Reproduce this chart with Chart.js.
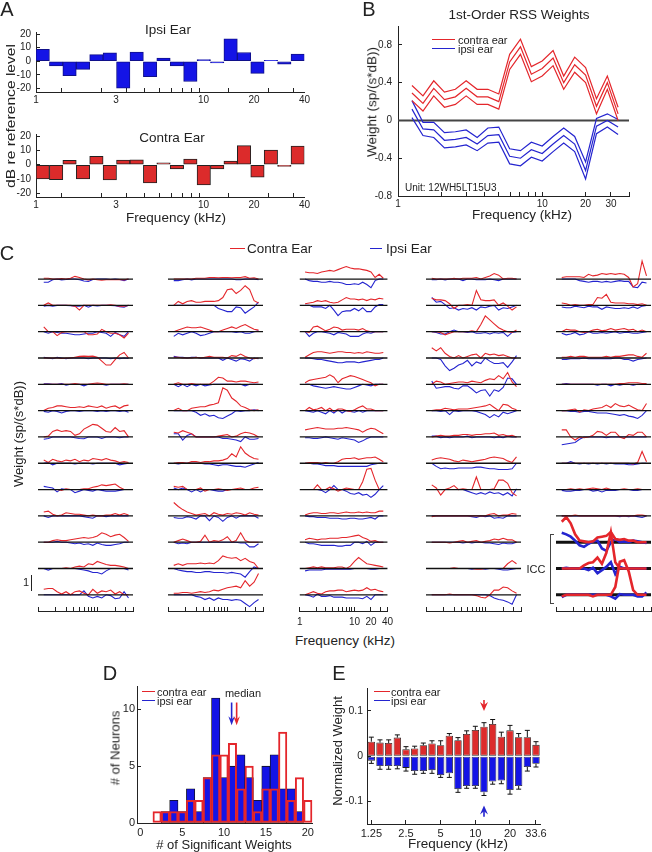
<!DOCTYPE html>
<html>
<head>
<meta charset="utf-8">
<script src="https://cdn.jsdelivr.net/npm/chart.js@4.4.1/dist/chart.umd.min.js"></script>
<style>
html, body { margin: 0; padding: 0; background: #fff; overflow: hidden; }
#fig { position: relative; width: 652px; height: 852px; overflow: hidden;
       font-family: 'Liberation Sans', Arial, Helvetica, sans-serif; color: #222; }
#fig canvas { position: absolute; }
.t { position: absolute; white-space: nowrap; line-height: 1; }
.ln { position: absolute; height: 0; }
</style>
</head>
<body>
<div id="fig"></div>
<script>
// ---------- data ----------
// quarter-octave frequency bins (kHz) used by B, C and E
const freqs = [1.25, 1.49, 1.77, 2.1, 2.5, 2.97, 3.54, 4.2, 5, 5.95, 7.07, 8.41, 10, 11.9, 14.1, 16.8, 20, 23.8, 28.3, 33.6];
const logTickVals = [1, 2, 3, 4, 5, 6, 7, 8, 9, 10, 20, 30, 40];

// A: dB re reference level, 20 log-spaced bins 1-40 kHz
const aBins = ['1.1', '1.3', '1.6', '1.9', '2.3', '2.8', '3.3', '4.0', '4.8', '5.8', '6.9', '8.3', '10', '12', '14.5', '17.4', '21', '25', '30', '36'];
const aIpsi = [8.7, -3.4, -10.6, -6, 4.9, 6.2, -19.8, 6.8, -11.3, 2.3, -3.4, -14.9, 1.3, -1.3, 16.4, 6.4, -8.9, 0.6, -2.1, 5.3];
const aContra = [-10, -10.5, 3, -10, 5.8, -10.7, 3.3, 3.5, -12.8, 1.4, -3, 4, -14.2, -2.9, 2.5, 13.4, -8.7, 10.3, -1.2, 13];
const aXTicks = [1, 3, 10, 20, 40];
const aYTicks = [-20, -10, 0, 10, 20];

// B: first-order weights, mean and SE
const bContra = [0.29, 0.18, 0.34, 0.22, 0.25, 0.34, 0.25, 0.25, 0.20, 0.62, 0.78, 0.49, 0.55, 0.66, 0.40, 0.59, 0.48, 0.15, 0.40, 0.07];
const bContraSE = [0.08, 0.08, 0.08, 0.08, 0.08, 0.08, 0.08, 0.08, 0.08, 0.08, 0.08, 0.08, 0.08, 0.08, 0.07, 0.08, 0.08, 0.08, 0.07, 0.07];
const bIpsi = [0.12, -0.09, -0.10, -0.21, -0.20, -0.18, -0.25, -0.16, -0.15, -0.38, -0.40, -0.31, -0.35, -0.25, -0.16, -0.25, -0.53, -0.06, 0, -0.07];
const bIpsiSE = [0.09, 0.07, 0.08, 0.08, 0.08, 0.08, 0.07, 0.08, 0.08, 0.08, 0.08, 0.08, 0.08, 0.08, 0.08, 0.08, 0.09, 0.08, 0.07, 0.08];
const bXTicks = [1, 10, 20, 30];
const bYTicks = [-0.8, -0.4, 0, 0.4, 0.8];

// C: weights of 65 units, per column, 13 rows each (top to bottom)
const cRed1 = [
  [0.05, 0.05, 0, 0, 0.03, 0, 0.05, 0.17, 0.1, 0, -0.05, 0, -0.05, -0.08, -0.05, -0.05, -0.05, -0.03, -0.05, 0],
  [0, 0.15, 0, 0, 0, 0, 0, -0.05, -0.3, 0, 0, 0, 0, 0, 0, 0.03, 0, -0.05, -0.05, 0],
  [0.3, 0, 0, -0.25, -0.05, 0, 0, 0, 0, 0, -0.2, -0.2, -0.15, 0.15, 0, -0.1, -0.1, -0.2, -0.4, -0.1],
  [0, 0, 0, 0, -0.03, 0, 0, 0.05, 0.1, 0.12, 0.1, 0.12, 0.05, -0.2, -0.45, -0.45, -0.1, 0.2, 0.35, 0],
  [0, 0, 0, 0, 0, 0, 0, 0.05, 0, 0, 0, 0.05, 0.08, 0.05, 0, 0, 0, 0, 0.03, 0],
  [0, 0.15, 0.2, 0.3, 0.3, 0.25, 0.2, 0.2, 0.25, 0.2, 0.3, 0.25, 0.2, 0.3, 0.15, 0.25, 0.3, 0.15, 0.3, 0.35],
  [0, 0.05, 0.35, 0.45, 0.35, 0.4, 0.35, 0.1, 0.2, 0.5, 0.65, 0.8, 0.75, 0.55, 0.35, 0.3, 0.6, 0.35, 0.4, 0],
  [0.2, 0.05, 0.25, 0.15, 0.1, 0.2, 0.15, 0.25, 0.1, 0.2, 0.15, 0.3, 0.25, 0.2, 0.3, 0.2, 0.15, 0.05, 0.1, 0.05],
  [0, 0, 0, 0, -0.05, 0.05, 0, 0, 0, 0.05, 0.05, 0.15, 0.2, 0.3, 0.25, 0.3, 0.35, 0.15, 0, 0],
  [0.25, 0.3, 0.1, 0, 0.05, 0.2, 0.15, 0.1, 0.1, 0.05, 0, 0.05, 0, 0, 0.05, 0.05, 0.15, 0.05, 0.15, 0.05],
  [0, 0, 0.1, 0.15, 0.1, 0.1, 0.15, 0.2, 0.25, 0.3, 0.25, 0.3, 0.4, 0.6, 0.5, 0.35, 0.45, 0.5, 0.3, 0.05],
  [0, 0, 0, 0, 0, 0.05, 0, 0.1, 0.15, 0.1, 0.3, 0.25, 0.45, 0.35, 0.25, 0.2, 0.2, 0.15, 0.1, 0],
  [0.35, 0.4, 0.4, 0.2, 0.05, 0.2, 0, 0.2, 0.25, 0.1, 0, 0.35, 0.1, 0.25, 0.2, 0.3, 0.05, 0.2, 0, 0]
];
const cBlue1 = [
  [-0.2, -0.2, -0.05, 0, -0.05, -0.03, 0, 0, -0.05, -0.12, -0.15, -0.03, 0, 0, 0, -0.03, 0, -0.03, -0.1, 0],
  [-0.05, 0, -0.05, 0, 0, 0, -0.03, -0.05, -0.05, 0, -0.12, 0, -0.03, 0, 0, 0, -0.03, -0.08, -0.12, 0],
  [0, -0.1, 0, -0.05, -0.1, -0.1, -0.15, -0.2, -0.2, -0.15, -0.1, -0.1, 0, -0.05, -0.1, -0.3, -0.05, -0.2, -0.3, 0],
  [0.05, 0, -0.05, 0.05, 0, -0.05, 0, 0, 0, 0, -0.05, 0, 0, 0, 0, -0.05, 0, -0.05, 0, -0.03],
  [0.03, 0.03, 0, 0, 0.05, -0.05, 0, 0, 0, -0.1, 0, 0, 0, 0, -0.05, 0, 0, 0, 0, 0],
  [-0.05, -0.1, 0, -0.05, -0.15, -0.05, 0, 0, -0.05, 0, 0, 0, -0.05, 0, -0.05, 0, 0, -0.05, 0, -0.1],
  [-0.15, -0.1, 0, 0, 0, 0, 0, -0.05, -0.1, -0.12, 0, 0, 0, -0.1, 0, 0, 0, -0.05, 0, 0],
  [0, 0.05, -0.1, 0, 0, 0, 0, -0.05, 0, 0, 0, -0.05, 0, 0, 0, 0, 0, -0.1, -0.05, 0],
  [0.2, 0.15, 0.1, -0.15, 0.05, 0, 0, -0.2, -0.1, 0, -0.05, -0.1, 0, -0.05, -0.1, -0.1, -0.1, -0.05, 0, 0],
  [0, -0.1, 0, 0, 0, 0, 0, 0, 0, -0.05, -0.1, -0.15, 0, 0, -0.05, 0, 0, 0, 0, 0],
  [0, 0, 0, 0.05, 0, 0, -0.05, -0.1, -0.05, -0.15, -0.1, -0.2, -0.05, -0.15, -0.2, -0.2, -0.15, -0.1, 0, 0],
  [0, -0.1, 0, 0, 0, 0, 0, 0, -0.05, -0.1, -0.15, -0.25, -0.25, -0.35, -0.15, 0, 0, 0, 0, -0.1],
  [0, 0, 0, 0, 0, 0, 0, 0, 0, 0.25, -0.1, -0.2, -0.1, -0.2, 0, -0.05, -0.25, -0.2, 0.2, -0.2]
];
const cRed2 = [
  [0, 0, 0, 0, 0, 0.05, 0.05, 0.05, 0.1, 0.1, 0.08, 0.1, 0.1, 0.08, 0.1, 0.1, 0.15, 0.05, 0.08, 0],
  [0, 0.25, 0.1, 0.25, 0.3, 0.2, 0.2, 0.25, 0.25, 0.25, 0.3, 0.5, 1.0, 1.05, 0.75, 0.95, 1.25, 1.0, 0.3, 0.15],
  [0, 0.1, 0.2, 0.3, 0.25, 0.25, 0.3, 0.2, 0.1, 0, 0, 0.1, 0.2, 0.3, 0.2, 0.35, 0.45, 0.3, 0.15, 0.1],
  [0.05, 0.05, 0, 0, 0, 0.05, 0, 0.05, 0.1, 0.05, 0.05, 0.05, 0, 0.15, 0.1, 0.25, 0.1, 0, -0.05, 0],
  [0, 0.1, 0, 0, 0.05, 0, 0, 0, 0, 0.2, 0.45, 0.4, 0.2, 0.2, 0.15, 0.2, 0.2, 0.15, 0.1, 0.15],
  [0, 0.15, 0, 0, 0.15, 0.2, 0.25, 0.25, 0.35, 0.4, 0.5, 1.45, 1.3, 0.8, 0.6, 0.3, 0.2, 0.05, 0, 0.05],
  [0.3, 0.25, 0.4, 0.3, 0.2, 0, 0, 0, 0, 0, 0.05, 0.1, 0.15, 0, 0.05, 0.2, 0.3, 0.25, 0.15, 0],
  [0, 0.05, 0.05, 0, 0.1, 0.1, 0.05, 0.1, 0.1, 0.15, 0.15, 0.2, 0.3, 0.6, 0.4, 1.05, 0.65, 0.45, 0.3, 0.25],
  [0.2, 0.15, 0.2, 0, 0, 0, 0.1, -0.1, 0, 0, 0.05, 0, -0.05, 0, 0.05, 0.1, 0, 0, 0.1, 0.15],
  [0.85, 0.6, 0.4, 0.25, 0.15, 0.05, 0.1, 0.15, 0, 0.2, 0.1, 0.05, 0.15, 0.1, 0.2, 0.15, 0.05, 0.2, 0.1, 0.05],
  [0, 0.1, 0.2, 0.1, 0, 0, 0.05, 0.45, 0, 0.1, 0.05, 0.15, 0.35, 0, 0.1, 0.6, 0.1, 0, 0, 0],
  [0.2, 0.3, 0.2, 0.3, 0.3, 0.3, 0.35, 0.3, 0.35, 0.3, 0.5, 0.8, 0.7, 0.65, 0.7, 0.5, 0.65, 0.45, 0.35, 0],
  [0.1, 0.1, 0.15, 0.15, 0.1, 0.15, 0.2, 0.15, 0.2, 0.3, 0.25, 0.35, 0.45, 0.5, 0.55, 0.45, 0.9, 0.55, 0.8, 1.35]
];
const cBlue2 = [
  [-0.1, -0.1, -0.05, 0, -0.05, 0, 0, 0, 0, 0, 0, 0, 0, 0, -0.05, -0.05, 0, 0, 0, -0.05],
  [0, 0, 0, 0, 0, 0, 0, 0, 0, 0, -0.2, -0.3, -0.4, -0.4, -0.1, -0.15, -0.5, -0.3, -0.1, 0.2],
  [-0.3, -0.1, -0.2, -0.1, 0, -0.1, -0.25, -0.2, -0.1, 0, 0, 0, 0, 0, -0.05, 0, -0.1, -0.1, 0, 0.05],
  [0.1, 0.05, 0.05, 0, 0.05, 0.05, 0, 0, 0, 0, 0, -0.15, 0, -0.1, -0.2, -0.05, -0.1, -0.2, 0, -0.05],
  [0, -0.15, 0, -0.15, 0, -0.1, 0, -0.1, -0.05, 0, 0, 0, 0, 0, 0, 0, -0.1, 0, 0, 0],
  [0, 0, 0, 0, 0, -0.1, -0.3, -0.2, -0.35, -0.3, -0.45, -0.5, -0.35, -0.2, 0, -0.05, 0, 0, 0.05, 0],
  [0.2, 0.2, -0.2, 0.1, 0.2, 0, 0, 0, 0, 0, 0, -0.1, -0.1, -0.15, -0.2, -0.3, 0, -0.15, -0.15, -0.1],
  [0, -0.05, 0, 0, 0, 0, 0, -0.05, -0.05, -0.1, -0.15, -0.1, -0.1, -0.15, -0.2, -0.2, -0.25, -0.15, -0.05, 0.05],
  [0.1, 0, 0.1, 0, -0.15, 0, -0.15, 0, 0, -0.05, -0.1, -0.1, 0, 0, 0, 0, 0, 0, 0, 0],
  [-0.1, -0.15, -0.15, -0.05, -0.1, -0.2, 0, 0, -0.3, 0, -0.1, -0.35, -0.1, 0, -0.15, 0, 0, 0, 0, -0.15],
  [0, -0.1, -0.05, -0.1, 0, 0, 0, 0, 0, 0, 0, 0, 0, 0, 0, -0.05, -0.05, -0.3, -0.3, -0.1],
  [0, -0.1, -0.15, -0.2, -0.2, -0.25, -0.25, -0.2, -0.2, -0.25, -0.25, -0.25, -0.3, -0.25, -0.3, -0.35, -0.55, -0.2, 0.1, 0],
  [0, 0, 0, 0, 0, -0.1, -0.15, -0.3, -0.2, -0.35, -0.2, -0.3, -0.3, -0.35, -0.3, -0.35, -0.55, -0.75, -0.5, -0.3]
];
const cRed3 = [
  [0.45, 0.4, 0.4, 0.35, 0.45, 0.5, 0.55, 0.5, 0.6, 0.7, 0.8, 0.7, 0.65, 0.65, 0.6, 0.55, 0.45, 0.1, 0.3, 0.05],
  [0.1, 0.15, 0.2, 0.3, 0.25, 0.3, 0.2, 0.15, 0.2, 0.35, 0.5, 0.4, 0.4, 0.35, 0.4, 0.3, 0.4, 0.35, 0.45, 0.4],
  [0, -0.05, 0.3, 0.35, 0.2, 0.05, 0.15, 0.3, 0.25, 0.1, 0.15, 0.15, 0.15, 0.1, 0.2, 0.05, 0, 0, 0, 0],
  [0.05, 0.2, 0.35, 0.4, 0.4, 0.35, 0.3, 0.35, 0.4, 0.4, 0.35, 0.35, 0.3, 0.35, 0.3, 0.4, 0.35, 0.3, 0.3, 0.35],
  [0.1, 0.25, 0.3, 0.35, 0.4, 0.45, 0.6, 0.45, 0.1, 0.35, 0.45, 0.55, 0.5, 0.4, 0.3, 0.2, 0.1, -0.1, 0, 0],
  [0, 0.2, 0.05, 0.1, 0.2, 0, 0.15, -0.05, 0.1, 0.1, 0, -0.05, 0.05, 0.2, 0.3, 0.1, 0.1, 0, 0, 0],
  [0.45, 0.5, 0.55, 0.6, 0.55, 0.5, 0.5, 0.5, 0.55, 0.55, 0.6, 0.55, 0.5, 0.45, 0.3, 0.45, 0.55, 0.5, 0.35, 0.2],
  [0, 0.05, 0.05, 0.05, 0, 0.05, 0, 0, 0.1, 0.25, 0.3, 0.3, 0.35, 0.25, 0.3, 0.35, 0.35, 0.4, 0.25, 0.1],
  [0, 0, 0, 0.3, 0, 0, 0.15, 0.05, -0.1, 0, 0.1, 0.05, 0, 0, 0.5, 1.3, 1.35, 0.6, 0, 0],
  [0.05, 0.15, 0.2, 0.2, 0.15, 0.15, 0.2, 0.2, 0.15, 0.2, 0.25, 0.2, 0.2, 0.25, 0.2, 0.25, 0.2, 0.2, 0.3, 0.3],
  [0.15, 0.25, 0.2, 0.15, 0.2, 0.2, 0.25, 0.25, 0.25, 0.3, 0.3, 0.35, 0.4, 0.45, 0.3, 0.2, 0.05, 0.1, 0, 0],
  [0, 0.05, 0.1, 0.05, 0.1, 0.05, 0.05, 0.05, 0.1, 0.1, 0, 0.15, 0.45, 0.7, 0.5, 0.3, 0.25, 0.2, 0.15, 0.1],
  [0, 0.1, 0.2, 0.1, 0.05, 0.2, 0.25, 0.25, 0.3, 0.3, 0.2, 0.25, 0.3, 0.25, 0.3, 0.45, 0.3, 0.35, 0.25, 0.2]
];
const cBlue3 = [
  [0, -0.1, -0.15, -0.15, -0.2, -0.2, -0.15, -0.2, -0.2, -0.25, -0.35, -0.35, -0.3, -0.35, -0.2, -0.35, -0.55, -0.1, 0, 0],
  [0, 0, -0.1, -0.1, -0.1, -0.2, 0, -0.3, -0.65, -0.4, -0.35, -0.35, -0.2, -0.35, -0.15, -0.4, -0.4, -0.1, 0.05, 0.05],
  [0, -0.3, -0.1, 0, 0, -0.05, -0.1, -0.2, -0.05, -0.1, -0.15, -0.3, -0.3, -0.3, -0.15, -0.05, -0.1, 0, 0, 0],
  [0, 0, -0.05, -0.1, -0.1, -0.15, -0.2, -0.25, -0.3, -0.3, -0.25, -0.25, -0.25, -0.3, -0.25, -0.2, -0.15, -0.1, -0.1, 0],
  [0, 0, -0.1, -0.15, -0.2, -0.25, -0.2, -0.15, -0.2, -0.25, -0.3, -0.3, -0.2, -0.1, 0, -0.05, -0.1, 0, 0, 0],
  [0, -0.05, -0.1, 0, -0.1, -0.2, 0, -0.15, 0.05, -0.15, 0, -0.05, -0.1, 0, -0.1, 0, 0, 0, 0, 0],
  [-0.05, -0.05, -0.1, -0.1, -0.05, 0, -0.05, -0.1, -0.15, -0.05, -0.1, -0.15, -0.2, -0.35, -0.25, -0.1, 0, 0, 0, 0],
  [0, 0, -0.05, -0.05, -0.1, -0.15, -0.15, -0.15, -0.2, -0.2, -0.2, -0.2, -0.2, -0.2, -0.2, -0.2, -0.1, -0.05, 0, 0],
  [0, 0, 0, 0, -0.05, -0.2, 0, 0.25, 0, 0, -0.1, -0.25, -0.3, -0.2, -0.35, -0.3, -0.5, -0.3, 0, 0.25],
  [0, -0.05, -0.05, -0.1, -0.1, -0.1, -0.15, -0.15, -0.15, -0.2, -0.2, -0.15, -0.15, -0.2, -0.2, -0.15, -0.1, -0.2, 0, 0],
  [0, -0.1, -0.1, -0.15, -0.2, -0.2, -0.2, -0.2, -0.25, -0.25, -0.2, -0.2, 0, 0, -0.1, 0.05, -0.2, 0, 0, 0],
  [-0.15, -0.1, -0.1, -0.1, -0.1, -0.05, -0.05, -0.05, -0.05, -0.05, -0.05, -0.05, 0, 0, 0, 0, -0.05, -0.05, 0, 0],
  [0, -0.05, -0.15, 0.05, -0.1, -0.1, -0.05, -0.15, -0.15, -0.15, -0.2, -0.2, -0.2, -0.2, -0.25, -0.1, -0.3, 0, 0, 0]
];
const cRed4 = [
  [0.05, 0, 0, 0, 0, 0.05, 0, 0.05, 0.05, 0.05, 0.1, 0, 0.1, 0.2, 0.35, 0.25, 0, 0.05, 0.05, 0],
  [0.45, 0.35, 0.35, 0.3, 0.1, -0.2, 0, 0, 0.05, 0, 0.95, 0.35, 0.3, 0.3, 0.35, 0, 0.15, -0.05, -0.3, -0.1],
  [0, 0, -0.05, -0.2, -0.1, 0, 0, 0, 0, 0.05, 0, 0.45, 1.0, 0.75, 0.5, 0.25, 0.1, 0, -0.05, 0.1],
  [0.65, 0.45, 0.65, 0.3, 0.1, 0, 0.15, 0, 0.1, 0.2, 0.25, 0, 0.3, 0.2, 0.25, 0.15, 0.2, 0.1, 0, 0],
  [0, 0.2, 0.15, 0, 0.05, 0.1, 0.15, 0.15, 0.1, 0.2, 0.15, 0.1, 0.25, 0.35, 0.3, 0.55, 0.35, 0.75, 0.15, -0.15],
  [0, 0.05, 0.05, 0.15, 0.1, 0.05, 0.1, 0.1, 0.1, 0.15, 0.2, 0.25, 0.3, 0.4, 0.2, 0, 0.4, 0.35, 0.15, 0.05],
  [0, 0.05, 0.1, 0.05, 0.05, 0.1, 0.1, 0.15, 0.15, 0.1, 0.15, 0.15, 0.2, 0.2, 0.25, 0.1, 0.15, 0.05, 0.1, 0],
  [0.2, 0.3, 0.35, 0.3, 0.25, 0.15, 0.1, 0.2, 0.15, 0.1, 0.15, 0.2, 0.25, 0.35, 0.4, 0.35, 0.3, 0.15, 0.05, 0.4],
  [0.3, 0.1, -0.35, 0, 0.1, 0.25, 0, 0.05, 0, 0, 0.8, 0, 0, 0, 0.05, 0.6, 0.6, 0.4, -0.2, -0.4],
  [-0.05, 0, 0, 0, 0, 0, 0, 0, 0, 0, 0, 0, 0, 0.1, 0.15, 0, 0.05, 0.05, 0.15, 0.1],
  [0, 0, 0, 0, -0.05, 0, 0.05, 0.1, 0, 0.05, 0.1, 0, 0.05, 0.1, 0.2, 0.15, 0.25, 0.15, 0.15, 0],
  [0, 0, 0, 0, 0, 0.05, 0, 0, 0, 0, -0.05, -0.05, 0, 0, 0, 0, 0, 0.3, 0.5, 0.3],
  [0, 0, 0, 0, 0.05, 0, 0, 0, 0, 0, -0.05, -0.15, -0.2, 0, 0.3, 0.3, 0.5, 0.45, 0.25, 0.1]
];
const cBlue4 = [
  [-0.05, -0.05, 0, -0.05, 0, 0, 0, -0.1, 0, 0, -0.05, -0.05, -0.05, 0, -0.05, -0.1, 0, 0, 0, 0],
  [0.5, 0.2, 0.25, 0.05, -0.2, -0.15, -0.3, -0.2, -0.25, -0.15, -0.3, -0.1, -0.15, -0.05, 0, -0.3, -0.15, -0.2, -0.1, 0],
  [0, -0.05, -0.15, -0.15, 0, 0.1, 0, 0, -0.05, 0, -0.1, -0.1, -0.05, -0.15, -0.05, -0.1, -0.05, -0.3, -0.05, 0],
  [0, 0, -0.1, -0.5, -0.8, -0.65, -0.45, -0.35, -0.15, -0.5, -0.25, -0.35, 0, -0.2, -0.35, -0.35, -0.3, -0.6, -0.25, 0.15],
  [0.2, -0.25, -0.2, -0.15, -0.15, -0.25, -0.3, -0.1, -0.1, -0.3, -0.55, -0.4, -0.35, -0.75, -0.35, -0.45, -0.2, 0.4, 0.35, 0],
  [0, 0, -0.05, 0, -0.25, 0, -0.05, 0, 0, 0, -0.05, -0.15, -0.25, -0.45, -0.25, -0.4, -0.1, -0.2, -0.1, 0],
  [0.05, 0.05, -0.05, 0, -0.05, 0, 0, 0, 0.05, -0.05, 0, 0, 0, 0, -0.05, 0, -0.05, 0.05, 0, 0],
  [0, -0.2, -0.35, -0.3, -0.35, -0.35, -0.3, -0.3, -0.3, -0.3, -0.25, -0.25, -0.3, -0.35, -0.35, -0.4, -0.4, -0.4, -0.35, 0],
  [0, 0, 0, 0, 0, 0, 0, 0, -0.1, -0.2, -0.3, -0.2, -0.3, -0.15, -0.25, -0.2, -0.35, -0.2, -0.4, 0.05],
  [0, 0, 0, 0, 0, 0, 0, 0, 0, -0.05, -0.1, 0, -0.05, 0, -0.15, -0.1, -0.15, 0, 0, 0],
  [0, 0, 0, 0, 0, 0, 0, -0.05, 0, -0.05, 0, 0, -0.05, -0.05, -0.1, -0.15, -0.05, -0.1, -0.1, 0],
  [0, 0, 0, 0, 0, 0, 0, 0, 0, -0.05, 0, 0, -0.05, 0, 0, -0.05, -0.1, -0.1, -0.05, 0],
  [0, 0, 0, 0, 0, 0, 0, 0, 0, 0, 0, 0, 0, -0.05, -0.2, -0.3, -0.35, -0.45, -0.6, 0]
];
const cRed5 = [
  [0.1, 0.15, 0.15, 0.15, 0.15, 0.1, 0.3, 0.2, 0.25, 0.35, 0.3, 0.35, 0.3, 0.35, 0.3, 0.1, -0.5, -0.3, 1.15, 0.2],
  [0.15, 0.1, 0, 0.05, 0, 0, 0.05, 0.05, 0.5, 0.45, 0.7, 0.2, 0.15, 0.15, 0.15, 0.1, 0.1, 0.05, 0.1, 0],
  [0, 0.15, 0.1, 0.1, 0, -0.05, 0, 0.1, 0.15, 0.05, 0.1, 0.2, 0.1, 0.15, 0.2, 0.1, 0.15, 0, 0.1, 0],
  [0.05, 0.05, 0.1, 0.05, 0.1, 0.1, 0.05, 0.05, 0.05, 0.05, 0.1, 0.05, 0.1, 0.1, 0.15, 0.2, 0.2, 0.1, 0.05, 0.3],
  [0, 0, 0, 0, 0, 0, 0, 0, 0, 0, 0, 0, 0, 0.05, 0.05, 0.1, 0.1, 0.1, 0.05, 0.05],
  [0, 0, 0.05, 0.1, -0.1, 0.05, 0, 0.1, 0.15, 0.2, 0.35, 0.2, 0.45, 0.3, 0.25, 0.35, 0.2, 0.05, 0, 0.45],
  [0.45, 0.45, 0, -0.2, 0, -0.05, 0, 0.1, 0.35, 0.3, 0.1, 0.3, 0.3, 0, -0.1, 0.15, 0.1, 0.3, 0.3, 0],
  [0, 0, 0, 0, 0, 0, 0, 0, 0, 0, 0, 0, 0, 0, 0, 0, -0.05, 0.05, 0.75, 0.1],
  [0, 0, 0.05, 0, 0.05, 0, 0.05, 0.1, 0.05, 0, 0.1, 0, 0, 0, 0.05, 0, 0, 0.05, 0, 0],
  [0, 0, 0, 0.05, 0, 0, 0, 0, 0, 0, 0, 0, 0, 0, 0, 0, 0, 0.05, 0.05, 0],
  [1.3, 1.6, 1.2, 0.5, 0.1, 0.05, 0, 0.05, 0.3, 0.35, 0.4, 0.65, 0.2, 0.15, 0.2, 0.1, 0.1, 0, 0, 0],
  [0, 0, 0, 0, 0, 0.2, 0.35, 0.4, 0.7, 0.3, 1.0, 2.3, 0.4, 0, 0, 0, 0, 0, 0, 0],
  [-0.1, 0, 0, 0, 0, 0, 0, -0.1, 0, 0, 0, 0, 0.5, 2.1, 2.2, 1.5, 0.3, 0, 0, 0]
];
const cBlue5 = [
  [0, 0, 0, 0, -0.1, -0.15, -0.2, -0.15, -0.15, -0.2, -0.15, -0.2, -0.15, -0.1, -0.15, -0.15, -0.5, -0.55, -0.2, -0.25],
  [-0.1, -0.15, -0.15, -0.05, -0.1, -0.15, -0.05, -0.1, -0.1, -0.25, -0.1, -0.15, -0.2, -0.2, -0.15, -0.2, -0.1, -0.2, -0.05, 0],
  [-0.1, -0.2, -0.15, -0.05, -0.2, -0.15, 0, -0.1, -0.1, -0.05, -0.1, -0.05, 0, -0.1, -0.05, -0.05, -0.1, -0.1, -0.05, 0],
  [-0.1, -0.1, -0.05, -0.05, -0.05, 0, -0.05, -0.05, -0.05, -0.05, -0.05, -0.05, 0, 0, -0.1, -0.1, -0.2, -0.1, -0.05, 0],
  [0, 0.05, 0, 0, 0, 0, 0, 0, -0.05, 0, 0, -0.1, 0, -0.05, 0, 0, -0.05, 0, 0, 0],
  [0, 0, -0.05, -0.05, -0.1, -0.05, -0.05, -0.1, -0.15, -0.15, -0.15, -0.2, -0.25, -0.3, -0.25, -0.35, -0.4, -0.5, -0.3, 0],
  [-0.5, -0.45, -0.4, -0.35, -0.15, 0, 0, 0, 0, 0, -0.05, 0, 0, 0, 0, 0, 0, 0, 0, 0],
  [0, 0, 0.1, 0, -0.05, 0, -0.05, 0, -0.05, 0, -0.05, 0, -0.05, -0.05, -0.05, -0.1, -0.1, -0.05, 0, 0],
  [-0.05, -0.1, -0.1, -0.05, -0.05, 0, 0, -0.1, -0.05, -0.15, -0.05, -0.05, -0.05, 0, 0, 0, -0.05, -0.05, 0, 0],
  [0, 0, 0, 0, 0, 0, 0, 0, 0, 0, 0, 0, 0, -0.05, 0, -0.05, 0, -0.05, -0.1, 0],
  [0.6, 0.5, 0.35, 0.1, -0.2, -0.3, -0.1, 0.05, 0.1, -0.4, -0.55, 0, 0.2, 0, 0.05, 0, 0.1, 0.05, 0, -0.05],
  [0, 0.05, 0, 0, 0, 0, -0.1, 0.05, -0.3, -0.1, 0.1, 0.4, -0.35, 0.1, 0, 0, 0, 0, 0, 0],
  [-0.15, 0, 0, 0, 0, 0, 0, 0, 0, 0, 0, -0.1, -0.25, 0.05, 0, 0, 0, -0.1, -0.1, 0.15]
];
const cXTicks = [1, 10, 20, 40];

// D: histogram of significant weights per neuron
const dBins = [0, 1, 2, 3, 4, 5, 6, 7, 8, 9, 10, 11, 12, 13, 14, 15, 16, 17, 18, 19, 20];
const dIpsi = [0, 0, 0, 1, 2, 1, 3, 1, 4, 11, 4, 5, 6, 4, 2, 5, 6, 3, 3, 1, 0];
const dContra = [0, 0, 1, 1, 1, 1, 2, 2, 4, 6, 6, 7, 3, 5, 1, 3, 3, 8, 2, 4, 2];
const dMedians = [11.5, 10.9];          // contra, ipsi
const dArrowSpan = [10.6, 8.6];
const dXTicks = [0, 5, 10, 15, 20];
const dYTicks = [0, 5, 10];

// E: normalized weight per frequency, mean and SE
const eContra = [0.032, 0.030, 0.029, 0.041, 0.015, 0.017, 0.024, 0.028, 0.024, 0.045, 0.035, 0.049, 0.058, 0.065, 0.071, 0.043, 0.057, 0.042, 0.042, 0.025];
const eContraErr = [0.010, 0.006, 0.007, 0.006, 0.006, 0.005, 0.005, 0.006, 0.010, 0.005, 0.006, 0.007, 0.008, 0.009, 0.010, 0.010, 0.011, 0.008, 0.015, 0.007];
const eIpsi = [-0.010, -0.022, -0.022, -0.022, -0.026, -0.033, -0.033, -0.031, -0.042, -0.038, -0.073, -0.066, -0.066, -0.080, -0.056, -0.054, -0.075, -0.066, -0.024, -0.017];
const eIpsiErr = [0.006, 0.007, 0.007, 0.006, 0.007, 0.007, 0.005, 0.007, 0.005, 0.009, 0.007, 0.005, 0.005, 0.007, 0.006, 0.007, 0.009, 0.007, 0.009, 0.007];
const eXTicks = [1.25, 2.5, 5, 10, 20, 33.6];
const eYTicks = [-0.1, 0, 0.1];
const ePeakIndex = 13;
const eArrowRed = [0.124, 0.100];
const eArrowBlue = [-0.134, -0.109];

// ---------- setup ----------
const RED = '#e4262b', BLUE = '#2424cf';
const RED_BAR = '#dc2b2b', BLUE_BAR = '#1414e6';
const INK = '#222';
const TICK = 10;
const fig = document.getElementById('fig');

Chart.defaults.font.family = "'Liberation Sans', Arial, sans-serif";
Chart.defaults.color = INK;
Chart.defaults.animation = false;
Chart.defaults.responsive = false;
Chart.defaults.plugins.legend.display = false;
Chart.defaults.plugins.tooltip.enabled = false;

// place a canvas so that the chart area lands on the given page box
function makeChart(area, pad, config) {
  const cv = document.createElement('canvas');
  const left = Math.round(area.l - pad.l - pad.yw);
  const top = Math.round(area.t - pad.t);
  const w = Math.round(area.r + pad.r) - left;
  const h = Math.round(area.b + pad.xh) - top;
  cv.width = w; cv.height = h;
  cv.style.left = left + 'px'; cv.style.top = top + 'px';
  cv.style.width = w + 'px'; cv.style.height = h + 'px';
  fig.appendChild(cv);
  config.options.layout = { padding: { left: pad.l, top: pad.t, right: pad.r, bottom: 0 } };
  for (const [id, s] of Object.entries(config.options.scales)) {
    if (s.display === false) continue;
    s.afterFit = id.startsWith('y') ? (sc => { sc.width = pad.yw; }) : (sc => { sc.height = pad.xh; });
  }
  return new Chart(cv, config);
}

function logAxis(labels, size, padding) {
  return {
    type: 'logarithmic', position: 'bottom', min: 1, max: 40,
    afterBuildTicks: s => { s.ticks = logTickVals.map(v => ({ value: v })); },
    border: { color: INK, width: 1 },
    grid: { drawOnChartArea: false, tickLength: -4, color: INK },
    ticks: { font: { size }, padding, maxRotation: 0, autoSkip: false, color: INK,
             callback: v => labels.includes(v) ? String(v) : '' }
  };
}

function linAxis(min, max, ticks, size, padding) {
  return {
    type: 'linear', min, max,
    afterBuildTicks: s => { s.ticks = ticks.map(v => ({ value: v })); },
    border: { color: INK, width: 1 },
    grid: { drawOnChartArea: false, tickLength: -4, color: INK },
    ticks: { font: { size }, padding, color: INK, autoSkip: false, maxRotation: 0,
             callback: v => String(v) }
  };
}

function text(s, x, y, size, opt = {}) {
  const d = document.createElement('div');
  d.className = 't';
  d.textContent = s;
  d.style.left = x + 'px';
  d.style.top = y + 'px';
  d.style.fontSize = size + 'px';
  let tf = 'translate(' + (opt.left ? '0' : '-50%') + ',-50%)';
  if (opt.rot) tf += ' rotate(-90deg)';
  if (opt.stretch) tf += ' scaleX(' + opt.stretch + ')';
  d.style.transform = tf;
  fig.appendChild(d);
}

function keyLine(x1, x2, y, color) {
  const d = document.createElement('div');
  d.className = 'ln';
  d.style.cssText += `left:${x1}px;top:${y - 0.7}px;width:${x2 - x1}px;border-top:1.4px solid ${color}`;
  fig.appendChild(d);
}

function drawArrow(ctx, x, y0, y1, color, w, h) {
  const dir = Math.sign(y1 - y0);
  ctx.save();
  ctx.strokeStyle = color; ctx.fillStyle = color; ctx.lineWidth = 1.6;
  ctx.beginPath(); ctx.moveTo(x, y0); ctx.lineTo(x, y1 - dir * h * 0.6); ctx.stroke();
  ctx.beginPath();
  ctx.moveTo(x, y1);
  ctx.lineTo(x - w / 2, y1 - dir * h);
  ctx.lineTo(x, y1 - dir * h * 0.65);
  ctx.lineTo(x + w / 2, y1 - dir * h);
  ctx.closePath(); ctx.fill();
  ctx.restore();
}

// ---------- A ----------
function panelA(vals, area, fill, edge) {
  makeChart(area, { l: 4, yw: 32, t: 6, r: 10, xh: 18 }, {
    type: 'bar',
    data: { labels: aBins, datasets: [{
      data: vals, xAxisID: 'x', backgroundColor: fill, borderColor: edge, borderWidth: 1,
      borderSkipped: false, barPercentage: 1, categoryPercentage: 1
    }] },
    options: { scales: {
      x: { type: 'category', display: false, offset: true },
      xLog: logAxis(aXTicks, TICK, 6),
      y: linAxis(-22.6, 21.5, aYTicks, TICK, 9)
    } }
  });
}
panelA(aIpsi, { l: 36, t: 23, r: 306, b: 92 }, BLUE_BAR, '#10108a');
panelA(aContra, { l: 36, t: 125, r: 306, b: 197 }, RED_BAR, '#222');

text('A', 7, 9, 20);
text('Ipsi Ear', 168, 30, 13.5);
text('Contra Ear', 172, 138, 13.5);
text('dB re reference level', 10, 116, 13, { rot: true, stretch: 1.2 });
text('Frequency (kHz)', 176, 218, 13.5);

// ---------- B ----------
function band(mid, se, color) {
  const pts = k => freqs.map((f, i) => ({ x: f, y: mid[i] + k * se[i] }));
  return [1, 0, -1].map(k => ({ data: pts(k), borderColor: color, borderWidth: 1.2, pointRadius: 0, tension: 0 }));
}
const bZero = {
  id: 'bZero',
  beforeDatasetsDraw(chart) {
    const { ctx, chartArea: a, scales: { y } } = chart;
    const py = y.getPixelForValue(0);
    ctx.save(); ctx.strokeStyle = '#444'; ctx.lineWidth = 2;
    ctx.beginPath(); ctx.moveTo(a.left, py); ctx.lineTo(a.right, py); ctx.stroke();
    ctx.restore();
  }
};
makeChart({ l: 398, t: 18, r: 629, b: 196 }, { l: 4, yw: 34, t: 8, r: 12, xh: 18 }, {
  type: 'line',
  data: { datasets: [...band(bContra, bContraSE, RED), ...band(bIpsi, bIpsiSE, BLUE)] },
  options: { scales: { x: logAxis(bXTicks, TICK, 6), y: linAxis(-0.8, 1.0, bYTicks, TICK, 10) } },
  plugins: [bZero]
});
text('B', 369, 9, 20);
text('1st-Order RSS Weights', 519, 15, 13.5);
keyLine(432, 455, 39.5, RED); text('contra ear', 458, 39.5, 11, { left: true });
keyLine(432, 455, 48.5, BLUE); text('ipsi ear', 458, 48.5, 11, { left: true });
text('Unit: 12WH5LT15U3', 405, 188, 10, { left: true });
text('Weight (sp/(s*dB))', 372, 102, 13.5, { rot: true });
text('Frequency (kHz)', 522, 215, 13.5);

// ---------- C ----------
const cReds = [cRed1, cRed2, cRed3, cRed4, cRed5];
const cBlues = [cBlue1, cBlue2, cBlue3, cBlue4, cBlue5];
const cLefts = [35, 165, 294, 423, 553];
const ROW_STEP = 1.675;
cReds.forEach((reds, col) => {
  const blues = cBlues[col];
  const n = reds.length;
  const base = r => (n - 1 - r) * ROW_STEP;
  const isIcc = r => col === 4 && r >= n - 3;
  const trace = (vals, r, color) => ({
    data: freqs.map((f, i) => ({ x: f, y: base(r) + vals[i] })),
    borderColor: color, borderWidth: isIcc(r) ? 2.6 : 1.1, pointRadius: 0, tension: 0, clip: false
  });
  const datasets = [
    ...reds.map((v, r) => trace(v, r, RED)),
    ...blues.map((v, r) => trace(v, r, BLUE))
  ];
  const zeroLine = (ctx, a, y, r, w) => {
    const py = y.getPixelForValue(base(r));
    ctx.lineWidth = w;
    ctx.beginPath(); ctx.moveTo(a.left, py); ctx.lineTo(a.right, py); ctx.stroke();
  };
  makeChart({ l: cLefts[col], t: 255, r: cLefts[col] + 98, b: 611 }, { l: 6, yw: 0, t: 0, r: 10, xh: 16 }, {
    type: 'line',
    data: { datasets },
    options: { scales: {
      x: logAxis(col === 2 ? cXTicks : [], TICK, 9),
      y: { type: 'linear', display: false, min: -1.03, max: 21.63 }
    } },
    plugins: [{
      id: 'cZero',
      beforeDatasetsDraw(chart) {
        const { ctx, chartArea: a, scales: { y } } = chart;
        ctx.save(); ctx.strokeStyle = '#111';
        reds.forEach((v, r) => { if (isIcc(r)) zeroLine(ctx, a, y, r, 3); });
        ctx.restore();
      },
      afterDatasetsDraw(chart) {
        const { ctx, chartArea: a, scales: { y } } = chart;
        ctx.save(); ctx.strokeStyle = '#111';
        reds.forEach((v, r) => { if (!isIcc(r)) zeroLine(ctx, a, y, r, 1.3); });
        ctx.restore();
      }
    }]
  });
});
text('C', 7, 253, 20);
keyLine(230, 245, 249, RED); text('Contra Ear', 247, 249, 13.5, { left: true });
keyLine(370, 382, 249, BLUE); text('Ipsi Ear', 386, 249, 13.5, { left: true });
text('Weight (sp/(s*dB))', 18, 434, 13, { rot: true });
text('Frequency (kHz)', 345, 641, 13.5);
text('1', 26, 582, 11);
(() => {
  const bar = document.createElement('div');
  bar.className = 'ln';
  bar.style.cssText += 'left:30.5px;top:575px;height:16px;width:0;border-left:1.5px solid #222';
  fig.appendChild(bar);
  const br = document.createElement('div');
  br.className = 'ln';
  br.style.cssText += 'left:550px;top:534px;height:68px;width:3px;border:1px solid #444;border-right:none';
  fig.appendChild(br);
})();
text('ICC', 536, 569, 11);

// ---------- D ----------
const dArrows = {
  id: 'dArrows',
  afterDatasetsDraw(chart) {
    const { ctx, scales: { x, y } } = chart;
    const y0 = y.getPixelForValue(dArrowSpan[0]), y1 = y.getPixelForValue(dArrowSpan[1]);
    drawArrow(ctx, x.getPixelForValue(dMedians[1]), y0, y1, BLUE, 6.5, 9);
    drawArrow(ctx, x.getPixelForValue(dMedians[0]), y0, y1, RED, 6.5, 9);
  }
};
makeChart({ l: 137, t: 682, r: 312, b: 823 }, { l: 6, yw: 26, t: 8, r: 10, xh: 18 }, {
  type: 'bar',
  data: { datasets: [
    { data: dBins.map((b, i) => ({ x: b, y: dContra[i] })), backgroundColor: 'rgba(0,0,0,0)',
      borderColor: RED, borderWidth: 1.3, borderSkipped: false, grouped: false,
      barPercentage: 1, categoryPercentage: 1, clip: false },
    { data: dBins.map((b, i) => ({ x: b, y: dIpsi[i] })), backgroundColor: BLUE_BAR,
      borderColor: '#111', borderWidth: 0.8, borderSkipped: false, grouped: false,
      barPercentage: 1, categoryPercentage: 1, clip: false }
  ] },
  options: { scales: {
    x: Object.assign(linAxis(-0.4, 20.5, dXTicks, 11, 7), { position: 'bottom', offset: false }),
    y: linAxis(0, 12, dYTicks, 11, 6)
  } },
  plugins: [dArrows]
});
text('D', 110, 673, 20);
keyLine(142, 155, 691.7, RED); text('contra ear', 157, 691.7, 11, { left: true });
keyLine(142, 155, 701, BLUE); text('ipsi ear', 157, 701, 11, { left: true });
text('median', 243, 693, 11);
text('# of Neurons', 115, 748, 13, { rot: true });
text('# of Significant Weights', 224, 844, 13);

// ---------- E ----------
const eExtras = {
  id: 'eExtras',
  afterDatasetsDraw(chart) {
    const { ctx, scales: { x, y } } = chart;
    ctx.save(); ctx.strokeStyle = '#111'; ctx.lineWidth = 1;
    freqs.forEach((f, i) => {
      const px = x.getPixelForValue(i);
      [[eContra[i], eContraErr[i]], [eIpsi[i], -eIpsiErr[i]]].forEach(([v, e]) => {
        const y0 = y.getPixelForValue(v), y1 = y.getPixelForValue(v + e);
        ctx.beginPath();
        ctx.moveTo(px, y0); ctx.lineTo(px, y1);
        ctx.moveTo(px - 2.5, y1); ctx.lineTo(px + 2.5, y1);
        ctx.stroke();
      });
    });
    ctx.restore();
    const ax = x.getPixelForValue(ePeakIndex);
    drawArrow(ctx, ax, y.getPixelForValue(eArrowRed[0]), y.getPixelForValue(eArrowRed[1]), RED, 8, 9);
    drawArrow(ctx, ax, y.getPixelForValue(eArrowBlue[0]), y.getPixelForValue(eArrowBlue[1]), BLUE, 8, 9);
  }
};
makeChart({ l: 367, t: 682, r: 542, b: 824 }, { l: 4, yw: 30, t: 8, r: 12, xh: 18 }, {
  type: 'bar',
  data: { labels: freqs, datasets: [
    { data: eContra, backgroundColor: RED_BAR, borderColor: '#222', borderWidth: 0.8,
      borderSkipped: false, barPercentage: 0.85, categoryPercentage: 1 },
    { data: eIpsi, backgroundColor: BLUE_BAR, borderColor: '#222', borderWidth: 0.8,
      borderSkipped: false, barPercentage: 0.85, categoryPercentage: 1 }
  ] },
  options: { scales: {
    x: { type: 'category', stacked: true, offset: true,
         border: { color: INK, width: 1 },
         grid: { drawOnChartArea: false, tickLength: -4, color: INK, offset: false },
         ticks: { font: { size: 11 }, padding: 7, color: INK, autoSkip: false, maxRotation: 0,
                  callback: (v, i) => eXTicks.includes(freqs[i]) ? String(freqs[i]) : null } },
    y: Object.assign(linAxis(-0.15, 0.15, eYTicks, 10.5, 8), { stacked: true })
  } },
  plugins: [eExtras]
});
text('E', 339, 673, 20);
keyLine(374, 390, 691.7, RED); text('contra ear', 391, 691.7, 11, { left: true });
keyLine(374, 390, 700.7, BLUE); text('ipsi ear', 391, 700.7, 11, { left: true });
text('Normalized Weight', 337, 751, 13, { rot: true });
text('Frequency (kHz)', 458, 844, 13.5);
</script>
</body>
</html>
